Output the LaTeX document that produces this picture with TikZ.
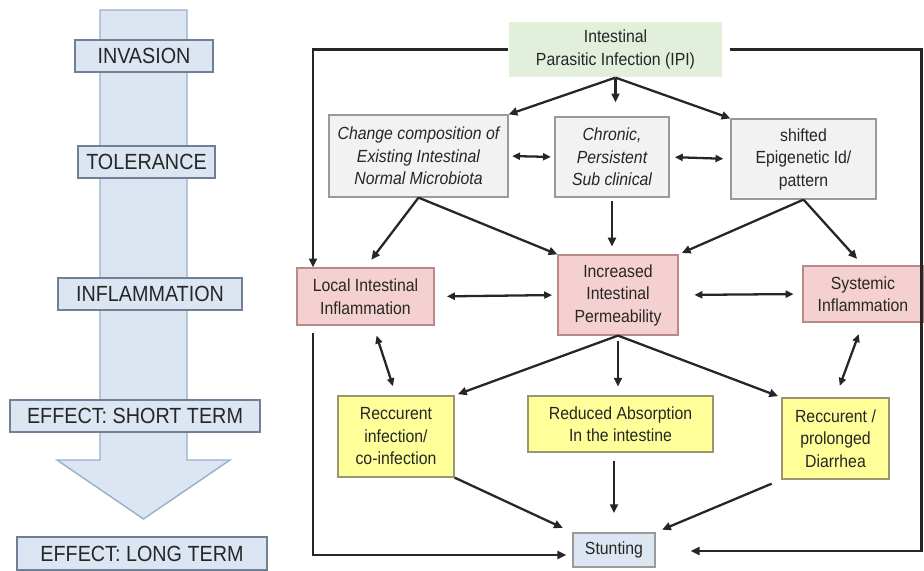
\documentclass[tikz,border=0pt]{standalone}
\usepackage{fontspec}
\setmainfont{Liberation Sans}[FakeStretch=0.9]
\usetikzlibrary{arrows.meta,calc}
\definecolor{txt}{HTML}{262626}
\definecolor{shaftblue}{HTML}{DCE6F2}
\definecolor{shaftedge}{HTML}{9AAEC9}
\definecolor{labeledge}{HTML}{6F7F95}
\definecolor{ipigreen}{HTML}{E2EFDA}
\definecolor{boxgray}{HTML}{F2F2F2}
\definecolor{edgegray}{HTML}{9A9A9A}
\definecolor{boxpink}{HTML}{F5D0D0}
\definecolor{edgepink}{HTML}{B88A8A}
\definecolor{boxyellow}{HTML}{FFFF99}
\definecolor{edgeyellow}{HTML}{9C9670}
\begin{document}
\begin{tikzpicture}[x=0.02cm,y=-0.02cm,
	stage/.style={draw=labeledge,fill=shaftblue,line width=0.9pt,inner sep=0pt,minimum height=0.64cm,font=\fontsize{12.5}{14}\selectfont,text=txt},
	box/.style={line width=0.7pt,inner sep=1pt,align=center,font=\fontsize{10}{12.8}\selectfont,text=txt},
	graybox/.style={box,draw=edgegray,fill=boxgray},
	pinkbox/.style={box,draw=edgepink,fill=boxpink},
	yellowbox/.style={box,draw=edgeyellow,fill=boxyellow},
	arr/.style={line width=1.3pt,draw=txt,-{Triangle[length=5pt,width=4.5pt]}},
	both/.style={line width=1.3pt,draw=txt,{Triangle[length=4.5pt,width=4pt]}-{Triangle[length=4.5pt,width=4pt]}}]
	\useasboundingbox (0,0) rectangle (924,571);
	% time line on the left
	\draw[fill=shaftblue,draw=shaftedge,line width=0.8pt] (100,10)--(187,10)--(187,460)--(230,460)--(143.5,519)--(57,460)--(100,460)--cycle;
	\node[stage,minimum width=2.76cm] (inv) at (144,56) {INVASION};
	\node[stage,minimum width=2.74cm] (tol) at (146.5,162) {TOLERANCE};
	\node[stage,minimum width=3.68cm] (infl) at (150,294) {INFLAMMATION};
	\node[stage,minimum width=5cm] (short) at (135,416) {EFFECT: SHORT TERM};
	\node[stage,minimum width=5cm,minimum height=0.66cm] (long) at (142,553.5) {EFFECT: LONG TERM};
	% flow chart
	\node[box,fill=ipigreen,minimum width=4.26cm,minimum height=1.1cm] (ipi) at (615.5,49.5) {Intestinal\\Parasitic Infection (IPI)};
	\node[graybox,font=\fontsize{10}{12.8}\selectfont\itshape,minimum width=3.58cm,minimum height=1.64cm] (micro) at (418.5,156) {Change composition of\\Existing Intestinal\\Normal Microbiota};
	\node[graybox,font=\fontsize{10}{12.8}\selectfont\itshape,minimum width=2.28cm,minimum height=1.6cm] (chronic) at (612,157) {Chronic,\\Persistent\\Sub clinical};
	\node[graybox,minimum width=2.9cm,minimum height=1.6cm] (epi) at (803.5,159) {shifted\\Epigenetic Id/\\pattern};
	\node[pinkbox,minimum width=2.74cm,minimum height=1.14cm] (local) at (365.5,296.5) {Local Intestinal\\Inflammation};
	\node[pinkbox,minimum width=2.4cm,minimum height=1.6cm] (perm) at (618,295) {Increased\\Intestinal\\Permeability};
	\node[pinkbox,minimum width=2.4cm,minimum height=1.12cm] (systemic) at (863,294) {Systemic\\Inflammation};
	\node[yellowbox,minimum width=2.32cm,minimum height=1.62cm] (coinf) at (396,436.5) {Reccurent\\infection/\\co-infection};
	\node[yellowbox,minimum width=3.7cm,minimum height=1.12cm] (absorb) at (620.5,424) {Reduced Absorption\\In the intestine};
	\node[yellowbox,minimum width=2.14cm,minimum height=1.62cm] (diarr) at (835.5,438.5) {Reccurent /\\prolonged\\Diarrhea};
	\node[box,draw=edgegray,fill=shaftblue,minimum width=1.64cm,minimum height=0.68cm] (stunt) at (614,550) {Stunting};
	\coordinate (lft) at (313,50);
	\coordinate (rgt) at (921.5,50);
	\draw[arr] (ipi.south)--(micro.north east);
	\draw[arr,shorten >=8pt] (ipi.south)--(ipi.south |- chronic.north);
	\draw[arr] (ipi.south)--(epi.north west);
	\draw[both,shorten <=2pt,shorten >=2pt] (micro.east)--(chronic.west);
	\draw[both,shorten <=3pt,shorten >=4pt] (chronic.east)--(epi.west);
	\draw[arr,shorten >=5.5pt] (micro.south)--(local.north);
	\draw[arr] (micro.south)--(perm.north west);
	\draw[arr,shorten <=2pt,shorten >=4.5pt] (chronic.south)--(chronic.south |- perm.north);
	\draw[arr,shorten >=2pt] (epi.south)--(perm.north east);
	\draw[arr,shorten >=5pt] (epi.south)--(systemic.north);
	\draw[both,shorten <=7pt,shorten >=3pt] (local.east)--(perm.west);
	\draw[both,shorten <=9pt,shorten >=5pt] (perm.east)--(systemic.west);
	\draw[both,shorten <=6pt,shorten >=5.5pt] (local.-75)--(coinf.north);
	\draw[arr,shorten >=2pt] (perm.south)--(coinf.north east);
	\draw[arr,shorten <=3pt,shorten >=5pt] (perm.south)--(perm.south |- absorb.north);
	\draw[arr,shorten >=2pt] (perm.south)--(diarr.north west);
	\draw[both,shorten <=7pt,shorten >=7pt] (systemic.south)--(diarr.north);
	\draw[arr,shorten >=6pt] (coinf.south east)--(stunt.north west);
	\draw[arr,shorten <=4.5pt,shorten >=11pt] (stunt.north |- absorb.south)--(stunt.north);
	\draw[arr,shorten <=6pt,shorten >=4pt] (diarr.south west)--(stunt.north east);
	% outer loops
	\draw[arr] (ipi.west)--(ipi.west -| lft)--(lft |- local.north);
	\draw[arr,shorten <=4pt,shorten >=3.5pt] (lft |- local.south)--($(lft |- stunt.west)+(0,5)$)--($(stunt.west)+(0,5)$);
	\draw[arr,shorten <=4pt,shorten >=20pt] (ipi.east)--(ipi.east -| rgt)--($(rgt |- stunt.east)+(0,1)$)--($(stunt.east)+(0,1)$);
\end{tikzpicture}
\end{document}
